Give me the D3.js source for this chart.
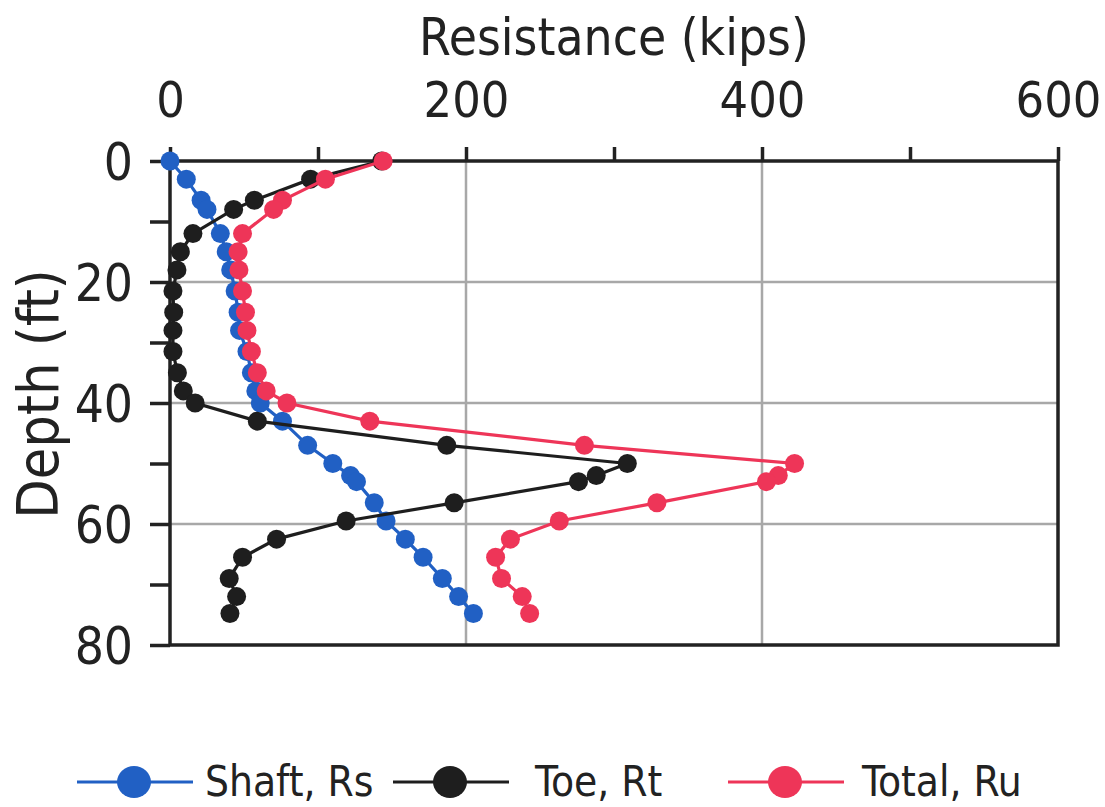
<!DOCTYPE html>
<html>
<head>
<meta charset="utf-8">
<script src="https://cdn.jsdelivr.net/npm/d3@7"></script>
<style>
  body { margin: 0; background: #fff; }
  text { font-family: "DejaVu Sans Condensed", "DejaVu Sans", sans-serif; fill: #222; }
</style>
</head>
<body>
<svg id="chart" width="1105" height="807"></svg>
<script>
// depth of each reading (ft)
var depth = [0, 3, 6.5, 8, 12, 15, 18, 21.5, 25, 28, 31.5, 35, 38, 40, 43, 47, 50, 52, 53, 56.5, 59.5, 62.5, 65.5, 69, 72, 74.8];
// resistance (kips)
var shaft = [0, 11, 21, 25, 34, 38, 41, 44, 46, 47, 52, 55, 58, 61, 76, 93, 110, 122, 126, 138, 146, 159, 171, 184, 195, 205];
var toe   = [143, 95, 57, 43, 15.5, 7, 4.7, 2, 2.5, 2, 2, 5, 9, 17, 59, 187, 309, 288, 276, 192, 119, 72, 49, 40, 45, 40.5];
var total = [144, 105, 76, 70, 49, 46, 46.6, 49, 51, 52, 55, 59, 65, 79, 135, 280, 422, 411, 403, 329, 263, 230, 220, 224, 238, 243];

var seriesNames = ['Shaft, Rs', 'Toe, Rt', 'Total, Ru'];
var seriesColors = ['#2160c4', '#1e1e1e', '#ee3558'];
var xTicks = [0, 200, 400, 600];
var yTicks = [0, 20, 40, 60, 80];

var svg = d3.select('#chart');

//plot box
var pLeft = 170, pRight = 1058, pTop = 161, pBottom = 645;

var x = d3.scaleLinear().domain([0, 600]).range([pLeft, pRight]);
var y = d3.scaleLinear().domain([0, 80]).range([pTop, pBottom]);

// grid lines
svg.append('g').selectAll('line')
  .data([200, 400])
  .enter().append('line')
  .attr('x1', function(d) { return x(d); }).attr('x2', function(d) { return x(d); })
  .attr('y1', pTop).attr('y2', pBottom)
  .attr('stroke', '#a8a8a8').attr('stroke-width', 2.5);

svg.append('g').selectAll('line')
  .data([20, 40, 60])
  .enter().append('line')
  .attr('x1', pLeft).attr('x2', pRight)
  .attr('y1', function(d) { return y(d); }).attr('y2', function(d) { return y(d); })
  .attr('stroke', '#a8a8a8').attr('stroke-width', 2.5);

// frame
svg.append('rect')
  .attr('x', pLeft).attr('y', pTop)
  .attr('width', pRight - pLeft).attr('height', pBottom - pTop)
  .attr('fill', 'none').attr('stroke', '#222').attr('stroke-width', 3.5);

// top axis
var xAxis = svg.append('g')
  .attr('transform', 'translate(0,' + pTop + ')')
  .call(d3.axisTop(x).tickValues(d3.range(0, 601, 100)).tickSize(14).tickSizeOuter(0)
    .tickFormat(function(d) { return xTicks.indexOf(d) >= 0 ? d : ''; }));
xAxis.select('.domain').remove();
xAxis.selectAll('.tick line').attr('stroke', '#222').attr('stroke-width', 3.5);
xAxis.selectAll('.tick text').attr('y', -44).style('font-size', '50px').attr('fill', '#222');

// left axis
var yAxis = svg.append('g')
  .attr('transform', 'translate(' + pLeft + ',0)')
  .call(d3.axisLeft(y).tickValues(d3.range(0, 81, 10)).tickSize(20).tickSizeOuter(0)
    .tickFormat(function(d) { return yTicks.indexOf(d) >= 0 ? d : ''; }));
yAxis.select('.domain').remove();
yAxis.selectAll('.tick line').attr('stroke', '#222').attr('stroke-width', 3.5);
yAxis.selectAll('.tick text').attr('x', -37).attr('dy', '0.36em').style('font-size', '51px').attr('fill', '#222');

// axis titles
svg.append('text')
  .attr('x', (pLeft + pRight) / 2).attr('y', 55)
  .attr('text-anchor', 'middle')
  .style('font-size', '51px')
  .text('Resistance (kips)');

svg.append('text')
  .attr('transform', 'translate(58,' + ((pTop + pBottom) / 2 - 9) + ') rotate(-90)')
  .attr('text-anchor', 'middle')
  .style('font-size', '57px')
  .text('Depth (ft)');

// series
var allSeries = [shaft, toe, total];
var line = d3.line()
  .x(function(d) { return x(d[0]); })
  .y(function(d) { return y(d[1]); });

allSeries.forEach(function(vals, i) {
  var pts = vals.map(function(v, j) { return [v, depth[j]]; });
  var g = svg.append('g');
  g.append('path')
    .datum(pts)
    .attr('d', line)
    .attr('fill', 'none')
    .attr('stroke', seriesColors[i])
    .attr('stroke-width', 3.2);
  g.selectAll('circle')
    .data(pts)
    .enter().append('circle')
    .attr('cx', function(d) { return x(d[0]); })
    .attr('cy', function(d) { return y(d[1]); })
    .attr('r', 9.5)
    .attr('fill', seriesColors[i]);
});

// legend
var legendX = [77, 393, 728];
var legendTextX = [128, 142, 134];
var legend = svg.append('g').selectAll('g')
  .data(seriesNames)
  .enter().append('g')
  .attr('transform', function(d, i) { return 'translate(' + legendX[i] + ',782)'; });

legend.append('line')
  .attr('x1', 0).attr('x2', 116)
  .attr('stroke', function(d, i) { return seriesColors[i]; })
  .attr('stroke-width', 3);
legend.append('ellipse')
  .attr('cx', 57).attr('rx', 17).attr('ry', 16)
  .attr('fill', function(d, i) { return seriesColors[i]; });
legend.append('text')
  .attr('x', function(d, i) { return legendTextX[i]; })
  .attr('y', 14)
  .style('font-size', '42px')
  .text(function(d) { return d; });
</script>
</body>
</html>
